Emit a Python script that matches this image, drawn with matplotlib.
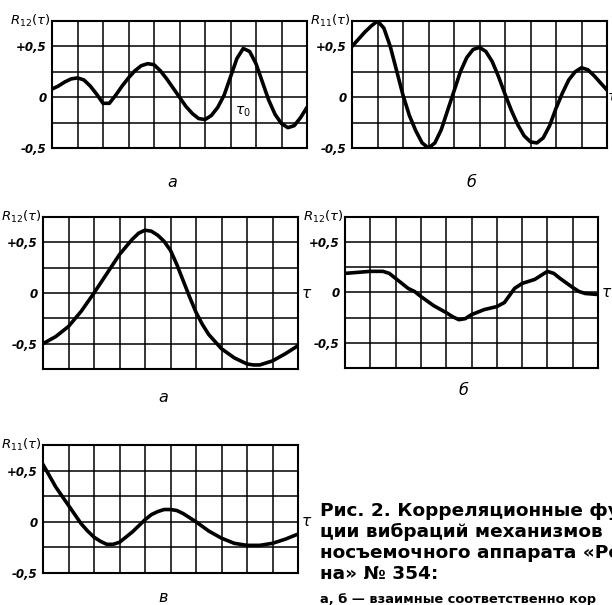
"""
Correlation functions of vibration (scanned figure, Рис. 2)
Five small panels with a hand-drawn style grid and a caption on the right.
"""

import matplotlib.pyplot as plt

# panel a (top left): R12(tau)
x_a1 = [0, 0.25, 0.5, 0.75, 1, 1.25, 1.5, 1.75, 2, 2.25, 2.5, 2.75, 3, 3.25,
        3.5, 3.75, 4, 4.25, 4.5, 4.75, 5, 5.25, 5.5, 5.75, 6, 6.25, 6.5, 6.75,
        7, 7.25, 7.5, 7.75, 8, 8.25, 8.5, 8.75, 9, 9.25, 9.5, 9.75, 10]
y_a1 = [0.08, 0.11, 0.15, 0.18, 0.19, 0.17, 0.11, 0.03, -0.06, -0.06, 0.02,
        0.11, 0.19, 0.26, 0.31, 0.33, 0.32, 0.26, 0.18, 0.09, 0.0, -0.09, -0.16,
        -0.21, -0.22, -0.18, -0.10, 0.02, 0.20, 0.38, 0.48, 0.45, 0.33, 0.15,
        -0.03, -0.17, -0.26, -0.30, -0.28, -0.20, -0.10]

# panel б (top right): R11(tau)
x_b1 = [0, 0.25, 0.5, 0.75, 1, 1.25, 1.5, 1.75, 2, 2.25, 2.5, 2.75, 3, 3.25,
        3.5, 3.75, 4, 4.25, 4.5, 4.75, 5, 5.25, 5.5, 5.75, 6, 6.25, 6.5, 6.75,
        7, 7.25, 7.5, 7.75, 8, 8.25, 8.5, 8.75, 9, 9.25, 9.5, 9.75, 10]
y_b1 = [0.50, 0.57, 0.64, 0.70, 0.75, 0.68, 0.50, 0.26, 0.02, -0.18, -0.33,
        -0.45, -0.50, -0.45, -0.32, -0.13, 0.06, 0.25, 0.39, 0.47, 0.49, 0.45,
        0.35, 0.20, 0.03, -0.13, -0.27, -0.38, -0.44, -0.45, -0.40, -0.28,
        -0.11, 0.04, 0.17, 0.25, 0.29, 0.27, 0.21, 0.14, 0.07]

# panel a (middle left): R12(tau)
x_a2 = [0, 0.5, 1, 1.5, 2, 2.5, 3, 3.5, 3.75, 4, 4.25, 4.5, 4.75, 5, 5.25,
        5.5, 5.75, 6, 6.25, 6.5, 7, 7.5, 8, 8.25, 8.5, 9, 9.5, 10]
y_a2 = [-0.50, -0.43, -0.33, -0.18, 0.0, 0.19, 0.38, 0.53, 0.59, 0.62, 0.61,
        0.57, 0.51, 0.42, 0.28, 0.12, -0.04, -0.19, -0.31, -0.41, -0.55, -0.64,
        -0.70, -0.71, -0.71, -0.67, -0.60, -0.52]

# panel б (middle right): R12(tau)
x_b2 = [0, 0.5, 1, 1.5, 1.75, 2, 2.25, 2.5, 2.75, 3, 3.5, 4, 4.25, 4.5, 4.75,
        5, 5.5, 6, 6.3, 6.5, 6.7, 7, 7.5, 7.75, 8, 8.25, 8.5, 9, 9.25, 9.5, 10]
y_b2 = [0.19, 0.20, 0.21, 0.21, 0.19, 0.14, 0.09, 0.04, 0.01, -0.04, -0.13,
        -0.20, -0.24, -0.27, -0.26, -0.22, -0.17, -0.14, -0.10, -0.03, 0.04,
        0.09, 0.13, 0.17, 0.21, 0.19, 0.14, 0.05, 0.01, -0.01, -0.02]

# panel в (bottom left): R11(tau)
x_c = [0, 0.25, 0.5, 0.75, 1, 1.25, 1.5, 1.75, 2, 2.25, 2.5, 2.75, 3, 3.25,
       3.5, 3.75, 4, 4.25, 4.5, 4.75, 5, 5.25, 5.5, 5.75, 6, 6.5, 7, 7.5, 8,
       8.5, 9, 9.5, 10]
y_c = [0.56, 0.45, 0.34, 0.25, 0.16, 0.07, -0.02, -0.09, -0.15, -0.19, -0.22,
       -0.22, -0.20, -0.15, -0.10, -0.04, 0.02, 0.07, 0.10, 0.12, 0.12, 0.11,
       0.08, 0.04, 0.0, -0.09, -0.16, -0.21, -0.23, -0.23, -0.21, -0.17, -0.12]

caption = ["Рис. 2. Корреляционные фу",
           "ции вибраций механизмов",
           "носъемочного аппарата «Ро",
           "на» № 354:"]
caption_small = "а, б — взаимные соответственно кор"

fig = plt.figure(figsize=(6.12, 6.05), dpi=100)


def px_axes(x0, y0, x1, y1):
    return fig.add_axes([x0 / 612, 1 - y1 / 605, (x1 - x0) / 612, (y1 - y0) / 605])


def panel(ax, x, y, ymin, ylabel, letter, letter_y):
    ax.plot(x, y, color="black", lw=2.6, solid_capstyle="round",
            solid_joinstyle="round")
    ax.set_xlim(0, 10)
    ax.set_ylim(ymin, 0.75)
    ax.set_xticks(range(11))
    ax.set_xticklabels([])
    yt = [v * 0.25 for v in range(int(ymin / 0.25), 4)]
    ax.set_yticks(yt)
    labels = {0.5: "+0,5", 0.0: "0", -0.5: "-0,5"}
    ax.set_yticklabels([labels.get(v, "") for v in yt], fontsize=8.5,
                       fontweight="bold", style="italic")
    ax.tick_params(length=0, pad=4)
    ax.grid(True, color="black", lw=1.1)
    for s in ax.spines.values():
        s.set_linewidth(1.5)
    ax.text(-0.005, 1.0, ylabel, transform=ax.transAxes, ha="right", va="center",
            fontsize=9.5, fontweight="bold", style="italic")
    ax.text(0.47, letter_y, letter, transform=ax.transAxes, ha="center",
            va="center", fontsize=11.5, style="italic")


ax1 = px_axes(52, 21, 307, 148)
panel(ax1, x_a1, y_a1, -0.5, r"$R_{12}(\tau)$", "а", -0.27)
ax1.text(7.5, -0.14, r"$\tau_0$", fontsize=10, ha="center", va="center")

ax2 = px_axes(352, 21, 607, 148)
panel(ax2, x_b1, y_b1, -0.5, r"$R_{11}(\tau)$", "б", -0.27)
ax2.text(1.0, 0.4, r"$\tau$", transform=ax2.transAxes, fontsize=10,
         ha="left", va="center")

ax3 = px_axes(43, 217, 298, 369)
panel(ax3, x_a2, y_a2, -0.75, r"$R_{12}(\tau)$", "а", -0.19)
ax3.text(1.01, 0.5, r"$\tau$", transform=ax3.transAxes, fontsize=11,
         ha="left", va="center")

ax4 = px_axes(345, 217, 598, 368)
panel(ax4, x_b2, y_b2, -0.75, r"$R_{12}(\tau)$", "б", -0.15)
ax4.text(1.01, 0.5, r"$\tau$", transform=ax4.transAxes, fontsize=11,
         ha="left", va="center")

ax5 = px_axes(43, 445, 298, 573)
panel(ax5, x_c, y_c, -0.5, r"$R_{11}(\tau)$", "в", -0.19)
ax5.text(1.01, 0.4, r"$\tau$", transform=ax5.transAxes, fontsize=11,
         ha="left", va="center")

for i, line in enumerate(caption):
    fig.text(320 / 612, 1 - (511 + 21 * i) / 605, line, fontsize=13.3,
             fontweight="bold", family="DejaVu Sans", va="center")
fig.text(320 / 612, 1 - 600 / 605, caption_small, fontsize=9.4,
         fontweight="bold", va="center")

fig.savefig("out.png", dpi=100)
